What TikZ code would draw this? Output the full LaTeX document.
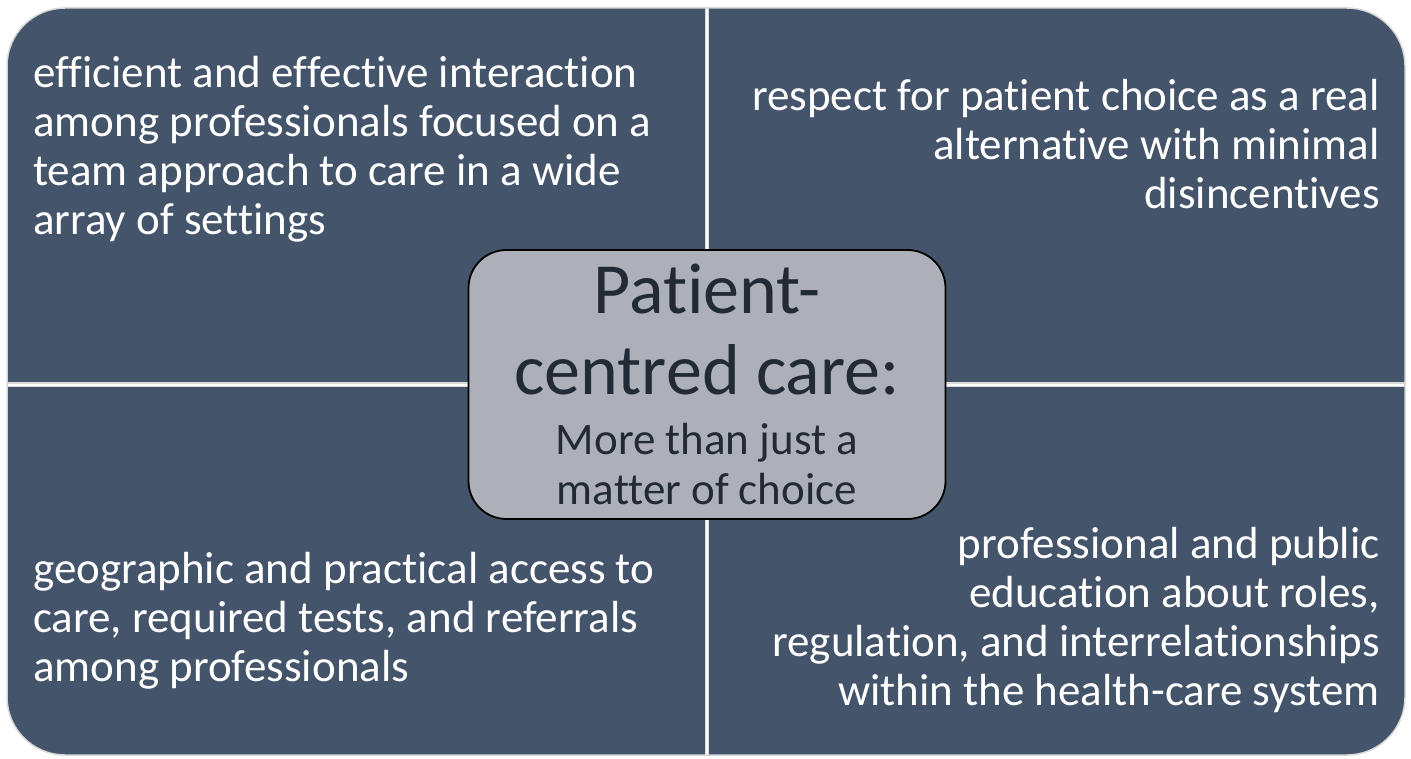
\documentclass[tikz,border=0pt]{standalone}
\usepackage{fontspec}
\setmainfont{Carlito}[Ligatures=NoCommon]
\definecolor{slate}{HTML}{44546A}
\definecolor{hubgray}{HTML}{ADB0B8}
\definecolor{hubink}{HTML}{222A35}
\definecolor{rimgray}{HTML}{D9D9D9}

\begin{document}
\begin{tikzpicture}[x=1pt,y=-1pt,
  quad/.style={inner sep=0pt,text=white,font=\fontsize{45}{49}\selectfont},
  hub/.style={draw=black,line width=1.8pt,fill=hubgray,rounded corners=38pt,
    minimum width=477pt,minimum height=269pt,inner sep=0pt,text=hubink}]
\useasboundingbox (0,0) rectangle (1411,759);

\draw [rimgray,line width=1.5pt,fill=slate,rounded corners=58pt] (7,8) rectangle (1405,755);
\draw [rimgray,line width=4.5pt] (707,8) -- (707,755) (7,384.5) -- (1405,384.5);
\draw [white,line width=2pt] (707,9) -- (707,754) (8,384.5) -- (1404,384.5);

\node (efficient) [quad,anchor=base west,align=left] at (33,235)
  {efficient and effective interaction\\among professionals focused on a\\team approach to care in a wide\\array of settings};
\node (respect) [quad,anchor=base east,align=right] at (1380,209)
  {respect for patient choice as a real\\alternative with minimal\\disincentives};
\node (access) [quad,anchor=base west,align=left] at (33,681)
  {geographic and practical access to\\care, required tests, and referrals\\among professionals};
\node (education) [quad,anchor=base east,align=right] at (1380,705)
  {professional and public\\education about roles,\\regulation, and interrelationships\\within the health-care system};

\node (hub) [hub] at (707,384.5)
  {\parbox{470pt}{\centering\fontsize{72}{81}\selectfont Patient-\\centred care:\par
   \vspace{10pt}\fontsize{45}{50}\selectfont More than just a\\matter of choice\par}};
\end{tikzpicture}
\end{document}
